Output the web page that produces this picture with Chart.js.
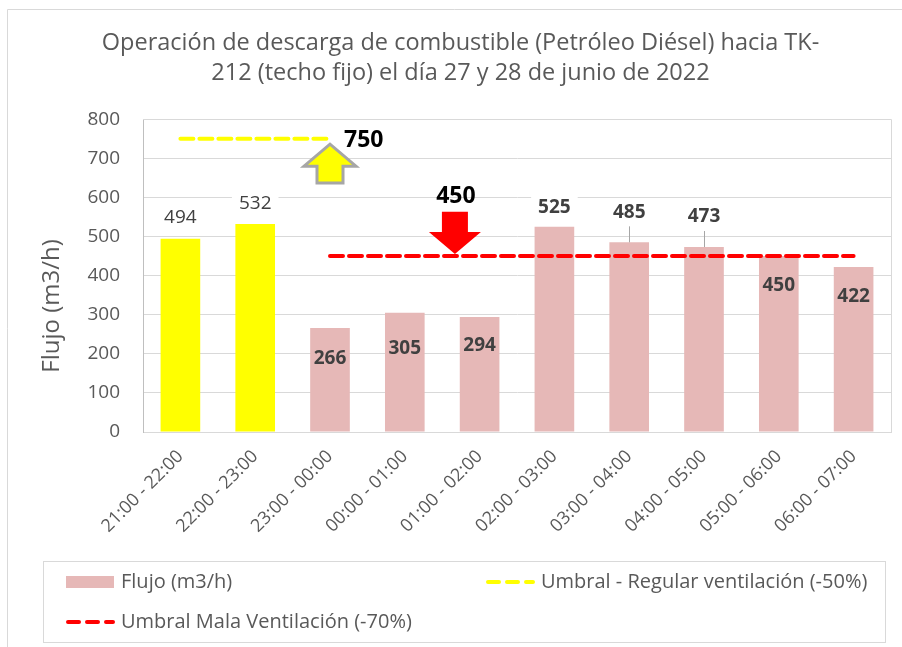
<!DOCTYPE html>
<html>
<head>
<meta charset="utf-8">
<script src="https://cdn.jsdelivr.net/npm/chart.js@4.4.0/dist/chart.umd.min.js"></script>
<style>
  html, body { margin: 0; padding: 0; background: #fff; }
  #wrap { width: 902px; height: 647px; }
</style>
</head>
<body>
<div id="wrap"><canvas id="chart" width="902" height="647"></canvas></div>
<script>
// ---- data ----
const categories = [
  "21:00 - 22:00", "22:00 - 23:00", "23:00 - 00:00", "00:00 - 01:00", "01:00 - 02:00",
  "02:00 - 03:00", "03:00 - 04:00", "04:00 - 05:00", "05:00 - 06:00", "06:00 - 07:00"
];
const flujo = [494, 532, 266, 305, 294, 525, 485, 473, 450, 422];
const umbralRegular = [750, 750, 750, null, null, null, null, null, null, null];
const umbralMala = [null, null, 450, 450, 450, 450, 450, 450, 450, 450];
const yMax = 800;
const yStep = 100;

// arrow callouts (category position, tail value, tip value, text)
const arrowAt = [2, 3.67];
const arrowFrom = [637, 563];
const arrowTo = [736, 455];
const arrowText = ["750", "450"];

const FONT = '"Open Sans", "Noto Sans", sans-serif';
const GREY_TXT = "#595959";
const PINK = "#E6B8B7";
const YELLOW = "#FFFF00";
const RED = "#FF0000";

const barColors = flujo.map((_, i) => (i < 2 ? YELLOW : PINK));

/* outer frame + plot box */
const frames = {
  id: "frames",
  beforeDraw(chart) {
    const ctx = chart.ctx;
    ctx.save();
    ctx.strokeStyle = "#D9D9D9";
    ctx.lineWidth = 1;
    ctx.beginPath();
    ctx.moveTo(7.5, chart.height);
    ctx.lineTo(7.5, 9.5);
    ctx.lineTo(chart.width, 9.5);
    ctx.stroke();
    ctx.restore();
  },
  afterDraw(chart) {
    const a = chart.chartArea, ctx = chart.ctx;
    ctx.save();
    ctx.strokeStyle = "#D9D9D9";
    ctx.lineWidth = 1;
    ctx.beginPath();
    ctx.moveTo(a.left, Math.round(a.top) + 0.5);
    ctx.lineTo(Math.round(a.right) + 0.5, Math.round(a.top) + 0.5);
    ctx.lineTo(Math.round(a.right) + 0.5, a.bottom);
    ctx.stroke();
    ctx.restore();
  }
};

/* data labels, placed like the Excel original */
const valueLabels = {
  id: "valueLabels",
  afterDatasetsDraw(chart, _args, opts) {
    const idx = chart.data.datasets.findIndex(d => d.type === "bar");
    const meta = chart.getDatasetMeta(idx);
    const ctx = chart.ctx;
    ctx.save();
    ctx.textAlign = "center";
    ctx.textBaseline = "middle";
    meta.data.forEach((bar, i) => {
      const dy = opts.shift[i];
      const y = bar.y + dy;
      const text = String(chart.data.datasets[idx].data[i]);
      ctx.font = (opts.bold[i] ? "bold " : "") + "19px " + FONT;
      if (dy < 0) {
        const w = ctx.measureText(text).width;
        ctx.fillStyle = "#fff";
        ctx.fillRect(bar.x - w / 2 - 7, y - 13, w + 14, 26);
        if (dy < -25) {
          ctx.strokeStyle = "#A6A6A6";
          ctx.lineWidth = 1;
          ctx.beginPath();
          ctx.moveTo(Math.round(bar.x) + 0.5, y + 14);
          ctx.lineTo(Math.round(bar.x) + 0.5, bar.y);
          ctx.stroke();
        }
      }
      ctx.fillStyle = "#404040";
      ctx.fillText(text, bar.x, y);
    });
    ctx.restore();
  }
};

/* block arrows with their values */
const arrowNotes = {
  id: "arrowNotes",
  afterDatasetsDraw(chart) {
    const { x, y } = chart.scales;
    const ctx = chart.ctx;
    ctx.save();
    arrowAt.forEach((at, i) => {
      const cx = x.getPixelForValue(at);
      const y0 = y.getPixelForValue(arrowFrom[i]);
      const y1 = y.getPixelForValue(arrowTo[i]);
      const dir = y1 > y0 ? 1 : -1;
      const headLen = 22, headHalf = 26, shaftHalf = 13;
      const yb = y1 - dir * headLen;
      ctx.beginPath();
      ctx.moveTo(cx - shaftHalf, y0);
      ctx.lineTo(cx - shaftHalf, yb);
      ctx.lineTo(cx - headHalf, yb);
      ctx.lineTo(cx, y1);
      ctx.lineTo(cx + headHalf, yb);
      ctx.lineTo(cx + shaftHalf, yb);
      ctx.lineTo(cx + shaftHalf, y0);
      ctx.closePath();
      const up = dir < 0;
      ctx.fillStyle = up ? YELLOW : RED;
      ctx.fill();
      if (up) {
        ctx.strokeStyle = "#A6A6A6";
        ctx.lineWidth = 3;
        ctx.lineJoin = "miter";
        ctx.stroke();
      }
      ctx.fillStyle = "#000";
      ctx.font = "bold 23px " + FONT;
      ctx.textBaseline = "middle";
      if (up) {
        ctx.textAlign = "left";
        ctx.fillText(arrowText[i], cx + 14, y1 - 4);
      } else {
        ctx.textAlign = "center";
        ctx.fillText(arrowText[i], cx + 1, y0 - 15);
      }
    });
    ctx.restore();
  }
};

/* y axis title (sits a bit below the middle, as in the original) */
const yTitle = {
  id: "yTitle",
  afterDraw(chart) {
    const ctx = chart.ctx;
    ctx.save();
    ctx.translate(52, 306);
    ctx.rotate(-Math.PI / 2);
    ctx.font = "24px " + FONT;
    ctx.fillStyle = GREY_TXT;
    ctx.textAlign = "center";
    ctx.textBaseline = "middle";
    ctx.fillText("Flujo (m3/h)", 0, 0);
    ctx.restore();
  }
};

/* boxed legend, two columns */
const boxLegend = {
  id: "boxLegend",
  afterDraw(chart) {
    const ctx = chart.ctx;
    const ds = chart.data.datasets;
    const bar = ds.find(d => d.type === "bar");
    const lines = ds.filter(d => d.type === "line");
    ctx.save();
    ctx.strokeStyle = "#D9D9D9";
    ctx.lineWidth = 1;
    ctx.strokeRect(43.5, 561.5, 842, 81);
    ctx.font = "20px " + FONT;
    ctx.fillStyle = GREY_TXT;
    ctx.textBaseline = "middle";
    ctx.textAlign = "left";
    const items = [
      { d: bar, x: 66, y: 582 },
      { d: lines[0], x: 486, y: 582 },
      { d: lines[1], x: 66, y: 622 }
    ];
    items.forEach(it => {
      if (it.d.type === "bar") {
        ctx.fillStyle = PINK;
        ctx.fillRect(it.x, it.y - 6, 48, 12);
      } else {
        ctx.strokeStyle = it.d.borderColor;
        ctx.lineWidth = 4;
        ctx.lineCap = "round";
        ctx.setLineDash([11, 8]);
        ctx.beginPath();
        ctx.moveTo(it.x + 2, it.y);
        ctx.lineTo(it.x + 47, it.y);
        ctx.stroke();
        ctx.setLineDash([]);
      }
      ctx.fillStyle = GREY_TXT;
      ctx.fillText(it.d.label, it.x + 55, it.y);
    });
    ctx.restore();
  }
};

new Chart(document.getElementById("chart"), {
  data: {
    labels: categories,
    datasets: [
      {
        type: "line",
        label: "Umbral - Regular ventilación (-50%)",
        data: umbralRegular,
        borderColor: YELLOW,
        borderWidth: 4,
        borderDash: [13, 6],
        borderCapStyle: "round",
        pointRadius: 0,
        order: 0
      },
      {
        type: "line",
        label: "Umbral Mala Ventilación (-70%)",
        data: umbralMala,
        borderColor: RED,
        borderWidth: 4,
        borderDash: [13, 6],
        borderCapStyle: "round",
        pointRadius: 0,
        order: 0
      },
      {
        type: "bar",
        label: "Flujo (m3/h)",
        data: flujo,
        backgroundColor: barColors,
        barPercentage: 0.53,
        categoryPercentage: 1,
        order: 2
      }
    ]
  },
  options: {
    responsive: false,
    animation: false,
    devicePixelRatio: 1,
    layout: { padding: { left: 30, right: 11, top: 0, bottom: 105 } },
    scales: {
      x: {
        grid: { display: false },
        border: { display: true, color: "#D9D9D9" },
        ticks: {
          color: GREY_TXT,
          font: { family: FONT, size: 18 },
          minRotation: 45,
          maxRotation: 45,
          autoSkip: false,
          padding: 6
        },
        afterFit: (s) => { s.height = 110; }
      },
      y: {
        min: 0,
        max: yMax,
        grid: { color: "#D9D9D9", drawTicks: false },
        border: { display: true, color: "#BFBFBF" },
        ticks: {
          stepSize: yStep,
          color: GREY_TXT,
          font: { family: FONT, size: 19 },
          padding: 23
        },
        afterFit: (s) => { s.width = 113; }
      }
    },
    plugins: {
      legend: { display: false },
      tooltip: { enabled: false },
      title: {
        display: true,
        text: [
          "Operación de descarga de combustible (Petróleo Diésel) hacia TK-",
          "212 (techo fijo) el día 27 y 28 de junio de 2022"
        ],
        color: GREY_TXT,
        font: { family: FONT, size: 23.5, weight: "normal", lineHeight: 1.28 },
        padding: { top: 28, bottom: 31 }
      },
      valueLabels: {
        shift: [-21, -20, 31, 36, 29, -19, -30, -30, 30, 30],
        bold: [false, false, true, true, true, true, true, true, true, true]
      }
    }
  },
  plugins: [frames, valueLabels, arrowNotes, yTitle, boxLegend]
});
</script>
</body>
</html>
